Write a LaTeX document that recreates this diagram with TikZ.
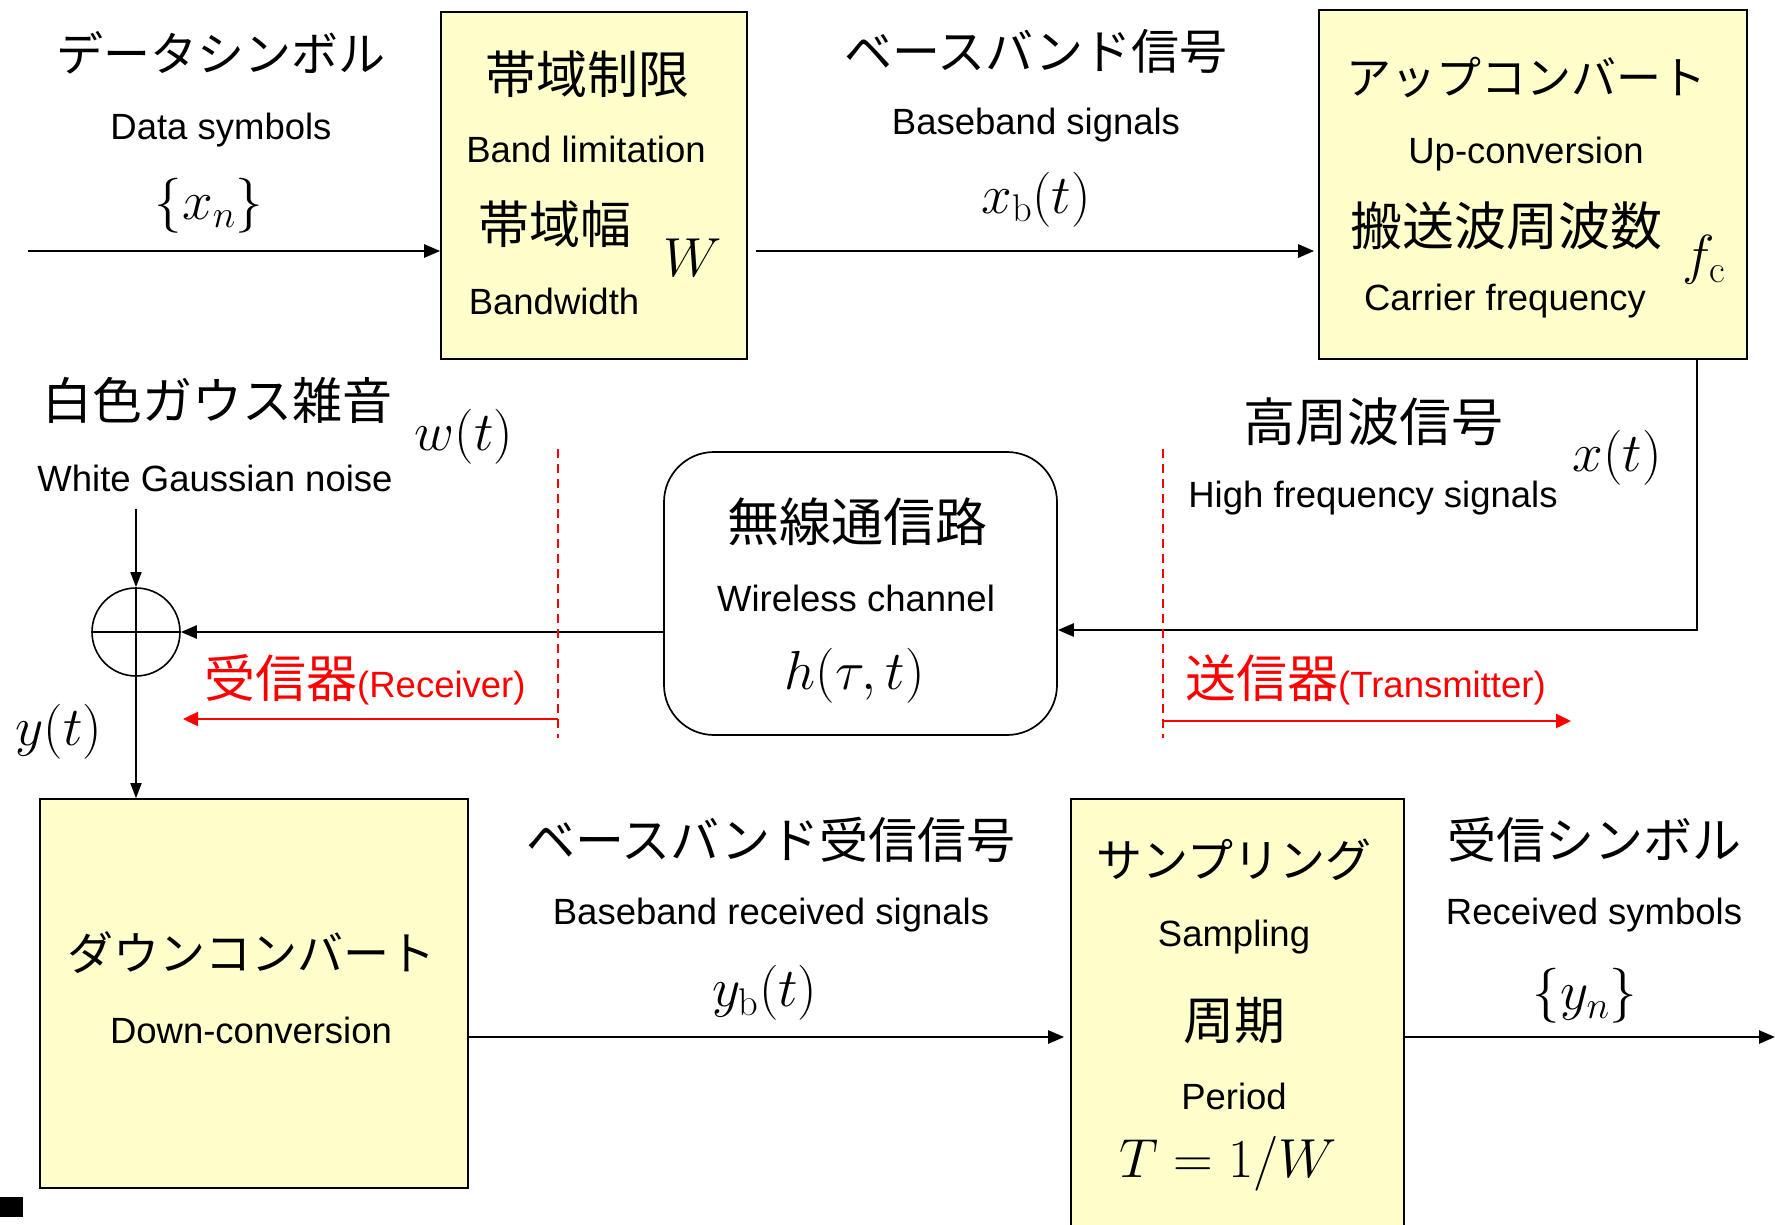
\RequirePackage{fix-cm}
\documentclass[tikz,border=0pt]{standalone}
\usepackage{fontspec}
\usetikzlibrary{arrows.meta}
\newfontfamily\jpf{Noto Sans CJK JP}
\newfontfamily\enf{Liberation Sans}
\definecolor{boxfill}{RGB}{255,255,204}
\definecolor{redc}{RGB}{255,0,0}
\tikzset{
  blk/.style={draw=black, line width=1.6pt, fill=boxfill, inner sep=0pt},
  arr/.style={line width=2.6pt, -{Triangle[length=16pt,width=13pt]}},
  thinarr/.style={line width=1.7pt, -{Triangle[length=15pt,width=11pt]}},
  jp/.style={inner sep=0pt, font=\jpf\fontsize{#1}{#1}\selectfont},
  jp/.default=50,
  en/.style={inner sep=0pt, font=\enf\fontsize{36.5}{40}\selectfont},
  mth/.style={inner sep=0pt, font=\fontsize{55}{66}\selectfont},
  reddash/.style={draw=redc, line width=1.8pt, dash pattern=on 9pt off 6pt},
  redarr/.style={draw=redc, line width=2.4pt, -{Triangle[length=15pt,width=14pt]}},
}
\begin{document}
\begin{tikzpicture}[x=1pt,y=-1pt]
\useasboundingbox (0,0) rectangle (1775,1225);
\clip (0,0) rectangle (1775,1225);
\fill[white] (0,0) rectangle (1775,1225);

% blocks
\node[blk, minimum width=306pt, minimum height=347pt] (bl) at (594,185.5) {};
\node[blk, minimum width=428pt, minimum height=349pt] (uc) at (1533,184.5) {};
\node[draw=black, line width=1.7pt, rounded corners=50pt, minimum width=393pt, minimum height=283pt, inner sep=0pt] (ch) at (860.5,593.5) {};
\node[draw=black, line width=1.6pt, circle, minimum size=88pt, inner sep=0pt] (add) at (136,632) {};
\draw[line width=1.3pt] (add.north) -- (add.south) (add.west) -- (add.east);
\node[blk, minimum width=428pt, minimum height=389pt] (dc) at (254,993.5) {};
\node[blk, minimum width=333pt, minimum height=442pt] (sp) at (1237.5,1020) {};

% coordinates
\coordinate (in) at (28,251);
\coordinate (c1) at (1697,630);
\coordinate (nz) at (136,509);
\coordinate (yl) at (700,1037);
\coordinate (out) at (1775,1037);
\coordinate (rd1t) at (558,449);
\coordinate (rd1b) at (558,738);
\coordinate (rd2t) at (1163,449);
\coordinate (rd2b) at (1163,738);
\coordinate (ra1s) at (558,719);
\coordinate (ra1e) at (183,719);
\coordinate (ra2s) at (1163,721);
\coordinate (ra2e) at (1571,721);

% connectors
\draw[arr] (in) -- (in -| bl.west);
\draw[arr, shorten <=8pt, shorten >=4pt] (bl.east |- in) -- (uc.west |- in);
\draw[arr] (uc.south -| c1) -- (c1) -- (ch.east |- c1);
\draw[arr] (ch.west |- add) -- (add.east);
\draw[thinarr] (nz) -- (add.north);
\draw[thinarr] (add.south) -- (add.south |- dc.north);
\draw[arr, shorten >=6pt] (dc.east |- yl) -- (sp.west |- yl);
\draw[arr] (sp.east |- yl) -- (out);

% red transmitter/receiver markers
\draw[reddash] (rd1t) -- (rd1b);
\draw[reddash] (rd2t) -- (rd2b);
\draw[redarr] (ra1s) -- (ra1e);
\draw[redarr] (ra2s) -- (ra2e);

% texts: top row
\node[jp=47] (t1) at (221,53) {データシンボル};
\node[en] (t2) at (221,130) {Data symbols};
\node[mth] (t3) at (209,206) {$\{x_n\}$};
\node[jp=51] (t4) at (587,74) {帯域制限};
\node[en] (t5) at (586,149) {Band limitation};
\node[jp=51] (t6) at (555,224) {帯域幅};
\node[mth] (t7) at (693,258) {$W$};
\node[en] (t8) at (554,301) {Bandwidth};
\node[jp=48] (t9) at (1036,51) {ベースバンド信号};
\node[en] (t10) at (1036,125) {Baseband signals};
\node[mth] (t11) at (1036,200) {$x_{\mathrm{b}}(t)$};
\node[jp=45] (t12) at (1526,77) {アップコンバート};
\node[en] (t13) at (1526,154) {Up-conversion};
\node[jp=52] (t14) at (1506,226) {搬送波周波数};
\node[mth] (t15) at (1704,260) {$f_{\mathrm{c}}$};
\node[en] (t16) at (1505,301) {Carrier frequency};

% middle row
\node[jp=52] (t17) at (1373,422) {高周波信号};
\node[mth] (t18) at (1617,458) {$x(t)$};
\node[en] (t19) at (1373,498) {High frequency signals};
\node[jp=52] (t20) at (857,522) {無線通信路};
\node[en] (t21) at (856,598) {Wireless channel};
\node[mth] (t22) at (855,676) {$h(\tau,t)$};
\node[jp=50] (t23) at (217,400) {白色ガウス雑音};
\node[en] (t24) at (215,478) {White Gaussian noise};
\node[mth] (t25) at (464,437) {$w(t)$};
\node[inner sep=0pt, anchor=base west, text=redc] (t26) at (204,697) {{\jpf\fontsize{51}{51}\selectfont 受信器}{\enf\fontsize{36.5}{40}\selectfont (Receiver)}};
\node[inner sep=0pt, anchor=base west, text=redc] (t27) at (1185,697) {{\jpf\fontsize{51}{51}\selectfont 送信器}{\enf\fontsize{36.5}{40}\selectfont (Transmitter)}};
\node[mth] (t28) at (59,732) {$y(t)$};

% bottom row
\node[jp=46] (t29) at (251,953) {ダウンコンバート};
\node[en] (t30) at (251,1030) {Down-conversion};
\node[jp=49] (t31) at (771,840) {ベースバンド受信信号};
\node[en] (t32) at (771,915) {Baseband received signals};
\node[mth] (t33) at (765,993) {$y_{\mathrm{b}}(t)$};
\node[jp=46] (t34) at (1234,860) {サンプリング};
\node[en] (t35) at (1234,937) {Sampling};
\node[jp=51] (t36) at (1234,1021) {周期};
\node[en] (t37) at (1234,1096) {Period};
\node[mth] (t38) at (1228,1164) {$T=1/W$};
\node[jp=49] (t39) at (1594,840) {受信シンボル};
\node[en] (t40) at (1594,915) {Received symbols};
\node[mth] (t41) at (1585,996) {$\{y_n\}$};

% small mark bottom left
\fill[black] (0,1197) rectangle (23,1217);
\end{tikzpicture}
\end{document}
